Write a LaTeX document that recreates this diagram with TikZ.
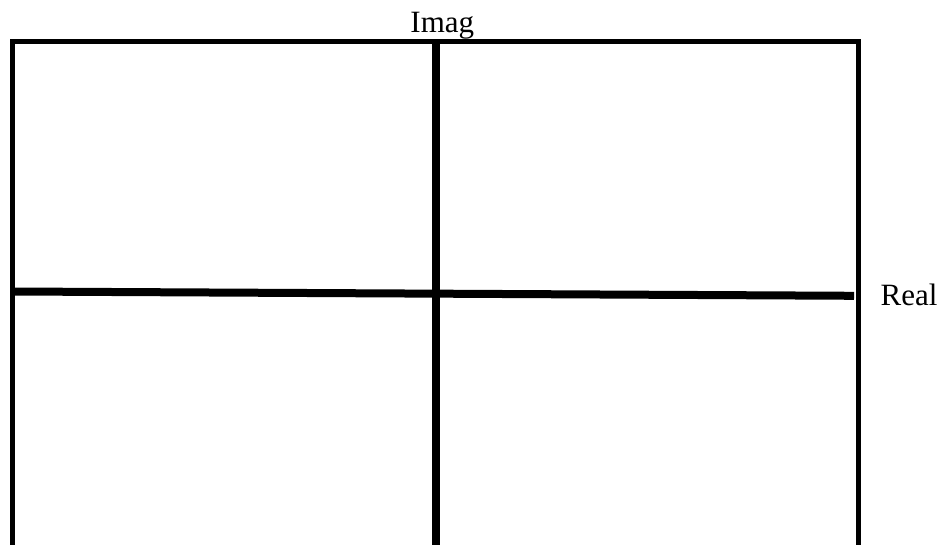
\documentclass[tikz,border=0pt]{standalone}
\usepackage{fontspec}
\setmainfont{Liberation Serif}
\begin{document}
\begin{tikzpicture}[x=1pt,y=-1pt,
  frame/.style={line width=5pt,line join=miter},
  axis/.style={line width=8.5pt},
  lbl/.style={inner sep=0pt,font=\fontsize{31}{36}\selectfont}]
\useasboundingbox (0,0) rectangle (944,545);
\coordinate (bl) at (12,545);
\coordinate (tl) at (12,41.7);
\coordinate (tr) at (858,41.7);
\coordinate (br) at (858,545);
\coordinate (vt) at (436,42);
\coordinate (vb) at (436,545);
\coordinate (hl) at (14,291.5);
\coordinate (hr) at (854,295.8);
\draw[frame] (bl) -- (tl) -- (tr) -- (br);
\draw[axis] (vt) -- (vb);
\draw[line width=8pt] (hl) -- (hr);
\node[lbl,anchor=base] (imag) at (442.3,32.7) {Imag};
\node[lbl,anchor=base west] (real) at (880.5,305.7) {Real};
\end{tikzpicture}
\end{document}
